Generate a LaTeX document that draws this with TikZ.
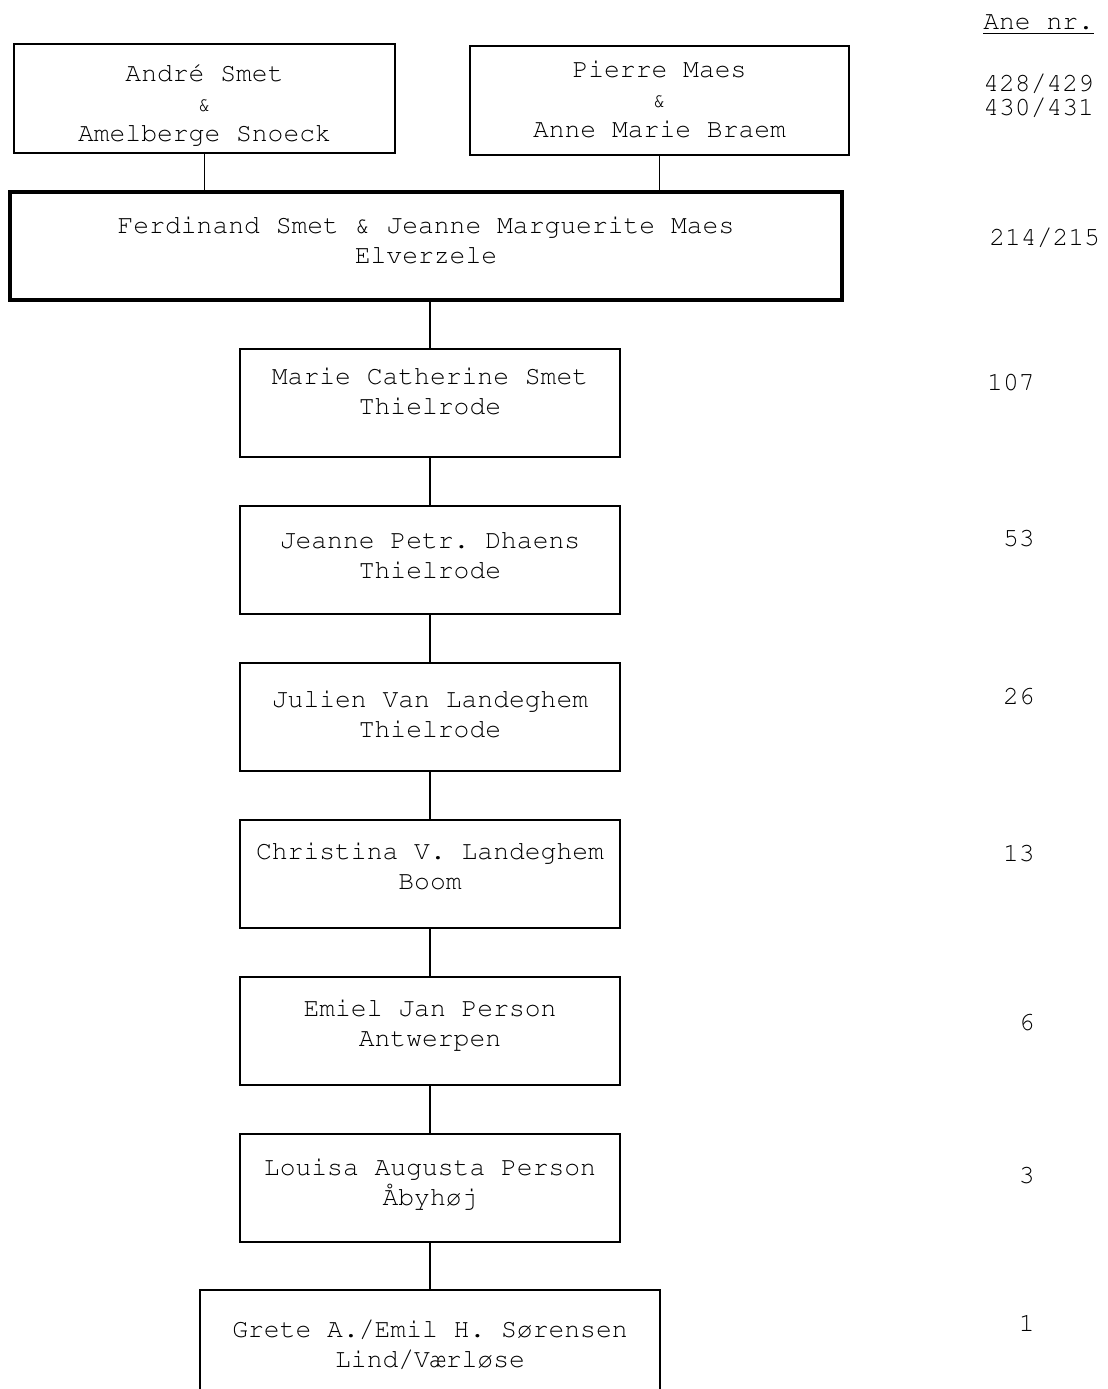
\documentclass[tikz,border=0pt]{standalone}
\usepackage[T1]{fontenc}
\usepackage{courier}
\usetikzlibrary{positioning}
\tikzstyle{person} = [rectangle, 
minimum width=7.6cm, 
minimum height=2.16cm, 
draw=black, 
line width=0.9pt]
\tikzstyle{couple} = [rectangle, 
minimum width=16.64cm, 
minimum height=2.16cm, 
draw=black, 
line width=2pt]
\tikzstyle{names} = [align=center, inner sep=0pt, font=\ttfamily\frenchspacing\fontsize{15}{17}\selectfont]
\tikzstyle{anenr} = [inner sep=0pt, font=\ttfamily\fontsize{15}{17}\selectfont]
\tikzstyle{line} = [line width=0.9pt]
\newcommand{\smallamp}{{\fontsize{13}{10}\selectfont\&}}

\begin{document}
\begin{tikzpicture}[x=0.02cm, y=-0.02cm, node distance=3.14cm]
        \useasboundingbox (0,0) rectangle (1107,1389);
        \clip (0,0) rectangle (1107,1389);
        % boxes
        \node (andre) [person, minimum width=7.62cm, minimum height=2.18cm] at (204.5,98.5) {};
        \node (pierre) [person, minimum width=7.58cm, minimum height=2.18cm] at (659.5,100.5) {};
        \node (ferd) [couple] at (426,246) {};
        \node (marie) [person] at (430,403) {};
        \node (jeanne) [person, below of=marie] {};
        \node (julien) [person, below of=jeanne] {};
        \node (christina) [person, below of=julien] {};
        \node (emiel) [person, below of=christina] {};
        \node (louisa) [person, below of=emiel] {};
        \node (grete) [person, minimum width=9.2cm, minimum height=2.2cm, below of=louisa] {};
        % names
        \node (andreT) [names, below=0.40cm of andre.north] {Andr\'e Smet\\\smallamp\\Amelberge Snoeck};
        \node (pierreT) [names, below=0.30cm of pierre.north] {Pierre Maes\\\smallamp\\Anne Marie Braem};
        \node (ferdT) [names, below=0.52cm of ferd.north] {Ferdinand Smet \& Jeanne Marguerite Maes\\Elverzele};
        \node (marieT) [names, below=0.38cm of marie.north] {Marie Catherine Smet\\Thielrode};
        \node (jeanneT) [names, below=0.52cm of jeanne.north] {Jeanne Petr. Dhaens\\Thielrode};
        \node (julienT) [names, below=0.56cm of julien.north] {Julien Van Landeghem\\Thielrode};
        \node (christinaT) [names, below=0.46cm of christina.north] {Christina V. Landeghem\\Boom};
        \node (emielT) [names, below=0.46cm of emiel.north] {Emiel Jan Person\\Antwerpen};
        \node (louisaT) [names, below=0.50cm of louisa.north] {Louisa Augusta Person\\\AA byh\o j};
        \node (greteT) [names, below=0.62cm of grete.north] {Grete A./Emil H. S\o rensen\\Lind/V\ae rl\o se};
        % ane numbers
        \node (ane) [anenr, anchor=base west] at (983,30) {\underline{Ane nr.}};
        \node (n428) [anenr, anchor=west, align=left, font=\ttfamily\fontsize{15}{14}\selectfont] at (983,96) {428/429\\430/431};
        \node (n214) [anenr, anchor=west] at (989,238) {214/215};
        \node (n107) [anenr, anchor=east] at (1035,382) {107};
        \node (n53) [anenr, anchor=east] at (1035,538) {53};
        \node (n26) [anenr, anchor=east] at (1035,696) {26};
        \node (n13) [anenr, anchor=east] at (1035,853) {13};
        \node (n6) [anenr, anchor=east] at (1035,1022) {6};
        \node (n3) [anenr, anchor=east] at (1035,1175) {3};
        \node (n1) [anenr, anchor=east] at (1035,1323) {1};
        % lines
        \draw [line] (andre) -- (andre |- ferd.north);
        \draw [line] (pierre) -- (pierre |- ferd.north);
        \draw [line] (marie |- ferd.south) -- (marie);
        \draw [line] (marie) -- (jeanne);
        \draw [line] (jeanne) -- (julien);
        \draw [line] (julien) -- (christina);
        \draw [line] (christina) -- (emiel);
        \draw [line] (emiel) -- (louisa);
        \draw [line] (louisa) -- (grete);
    \end{tikzpicture}
\end{document}
